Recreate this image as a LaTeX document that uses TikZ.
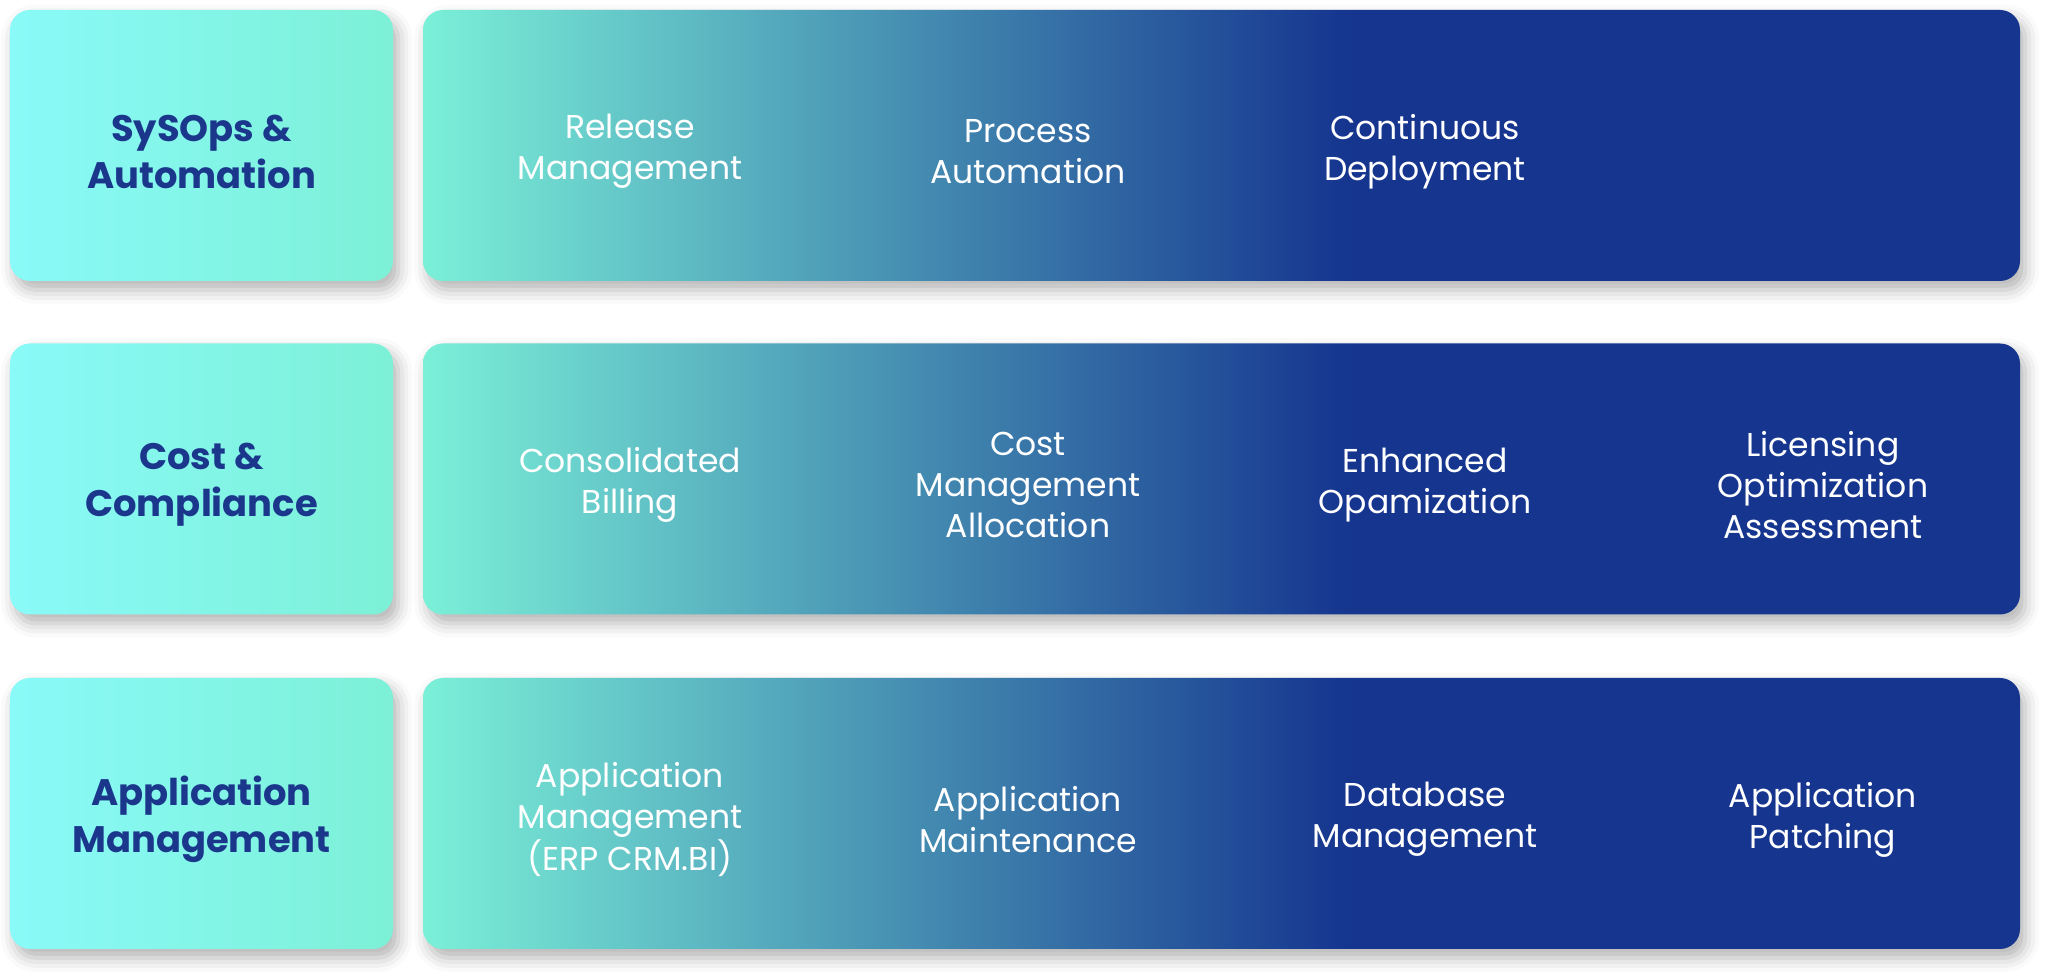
\documentclass[tikz,border=0pt]{standalone}
\usepackage{fontspec}
\setmainfont{Poppins}
\usepackage{tikz}
\usetikzlibrary{shadows.blur}

\definecolor{aquaL}{RGB}{138,250,248}
\definecolor{aquaR}{RGB}{125,240,215}
\definecolor{mint}{RGB}{123,240,216}
\definecolor{navy}{RGB}{21,53,143}
\definecolor{headtxt}{RGB}{27,55,140}
\pgfdeclarehorizontalshading{rowfade}{100bp}{color(0bp)=(mint); color(25bp)=(mint);
	color(54bp)=(navy); color(100bp)=(navy)}

\begin{document}
\begin{tikzpicture}[
		headbox/.style={rectangle, minimum width=3.83cm, minimum height=2.71cm,
			rounded corners=0.2cm, left color=aquaL, right color=aquaR,
			blur shadow={shadow xshift=1.5pt, shadow yshift=-2.5pt,
				shadow blur radius=4pt, shadow opacity=30}},
		rowbox/.style={rectangle, minimum width=15.97cm, minimum height=2.71cm,
			rounded corners=0.2cm, shading=rowfade,
			blur shadow={shadow xshift=1.5pt, shadow yshift=-2.5pt,
				shadow blur radius=4pt, shadow opacity=30}},
		head/.style={align=center, text=headtxt, yshift=-0.06cm,
			font=\fontsize{10.5}{13.4}\selectfont\bfseries},
		item/.style={align=center, text=white, yshift=-0.06cm,
			font=\fontsize{9.4}{11.7}\selectfont},
		]
		\useasboundingbox (0,0) rectangle (20.48,-9.77);
		
		%% ── SYSOPS & AUTOMATION ────────────────────────────────
		\node[headbox] (hSys) at (2.015,-1.455) {};
		\node[rowbox]  (rSys) at (12.215,-1.455) {};
		\node[head] (tSys) at (hSys) {SySOps \&\\Automation};
		\node[item] (relM)  at (6.30,-1.455)  {Release\\Management};
		\node[item] (procA) at (10.28,-1.455) {Process\\Automation};
		\node[item] (contD) at (14.25,-1.455) {Continuous\\Deployment};
		
		%% ── COST & COMPLIANCE ──────────────────────────────────
		\node[headbox] (hCost) at (2.015,-4.79) {};
		\node[rowbox]  (rCost) at (12.215,-4.79) {};
		\node[head] (tCost) at (hCost) {Cost \&\\Compliance};
		\node[item] (consB) at (6.30,-4.79)  {Consolidated\\Billing};
		\node[item] (costM) at (10.28,-4.79) {Cost\\Management\\Allocation};
		\node[item] (enhO)  at (14.25,-4.79) {Enhanced\\Opamization};
		\node[item] (licO)  at (18.23,-4.79) {Licensing\\Optimization\\Assessment};
		
		%% ── APPLICATION MANAGEMENT ─────────────────────────────
		\node[headbox] (hApp) at (2.015,-8.135) {};
		\node[rowbox]  (rApp) at (12.215,-8.135) {};
		\node[head] (tApp) at (hApp) {Application\\Management};
		\node[item] (appM)  at (6.30,-8.135)  {Application\\Management\\(ERP CRM.BI)};
		\node[item] (appMt) at (10.28,-8.135) {Application\\Maintenance};
		\node[item] (dbM)   at (14.25,-8.135) {Database\\Management};
		\node[item] (appP)  at (18.23,-8.135) {Application\\Patching};
		
	\end{tikzpicture}
\end{document}
